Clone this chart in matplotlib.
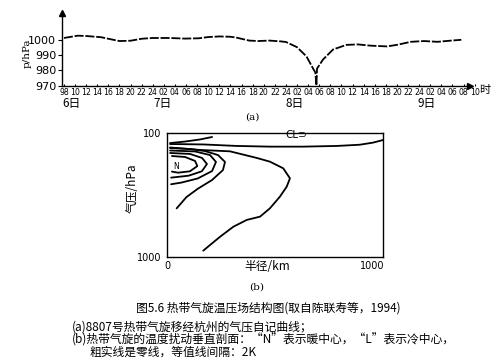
import numpy as np
import matplotlib
matplotlib.use('Agg')
import matplotlib.pyplot as plt
from matplotlib.transforms import blended_transform_factory

W, H = 501, 363
CJK = ['Noto Sans CJK SC', 'DejaVu Sans']
NARROW = ['Liberation Sans Narrow', 'DejaVu Sans']
plt.rcParams['font.family'] = ['DejaVu Sans', 'Noto Sans CJK SC']

# ---------------- Panel (a): pressure trace ----------------
hours = [8, 10.5, 12, 14.7, 16, 18, 20, 22, 24, 27, 29.8, 32.3, 34, 36, 38, 39,
         41.4, 43, 45, 47, 48, 50, 51.7, 52.9, 53.3, 53.5, 53.6, 54.7, 56.5,
         58.9, 61, 63.2, 66.2, 68, 70.5, 72.9, 75.3, 77.8, 79.6]
pressure = [1001, 1002.5, 1002.3, 1001.5, 1000.5, 999, 999.2, 1000.5, 1001,
            1001, 1000.6, 1000.8, 1001.6, 1002, 1001.8, 1001.3, 999.3, 999,
            999.3, 998.8, 998.4, 995, 989, 981, 978.5, 970, 981, 987, 993.5,
            996.5, 996.8, 996, 995.5, 996.5, 998.5, 999, 998.5, 999.3, 999.8]
tick_hours = list(range(8, 83, 2))
tick_labels = ["98", "10", "12", "14", "16", "18", "20", "22", "24",
               "02", "04", "06", "08", "10", "12", "14", "16", "18", "20", "22", "24",
               "02", "04", "06", "08", "10", "12", "14", "16", "18", "20", "22", "24",
               "02", "04", "06", "08", "10"]
day_labels = ["6日", "7日", "8日", "9日"]
day_label_hours = [9.4, 25.8, 49.6, 73.4]
yticks_a = [970, 980, 990, 1000]

# ---------------- Panel (b): temperature anomaly section ----------------
line_A_r = [15, 176, 341, 502, 663, 829, 941, 1005, 1054]
line_A_p = [180, 183, 194, 199, 199, 194, 185, 170, 151]
line_B_r = [15, 88, 161, 220]
line_B_p = [173, 162, 147, 129]
line_C_r = [15, 161, 307, 438, 502, 567, 600, 584, 551, 502, 454, 389, 324, 259, 210, 177]
line_C_p = [205, 223, 233, 281, 308, 356, 429, 490, 562, 647, 707, 731, 780, 853, 913, 954]
line_D_r = [15, 112, 185, 249, 283, 273, 220, 150, 95, 47]
line_D_p = [209, 216, 231, 260, 310, 369, 441, 505, 565, 647]
arc3_r = [15, 137, 210, 239, 220, 150, 70, 20]
arc3_p = [227, 234, 260, 310, 376, 430, 460, 472]
arc2_r = [15, 112, 171, 195, 170, 105, 20]
arc2_p = [245, 252, 281, 325, 378, 410, 424]
arc1_r = [24, 88, 137, 148, 112, 54, 24]
arc1_p = [267, 274, 303, 340, 378, 388, 380]
contours = [(line_A_r, line_A_p), (line_B_r, line_B_p), (line_C_r, line_C_p),
            (line_D_r, line_D_p), (arc3_r, arc3_p), (arc2_r, arc2_p),
            (arc1_r, arc1_p)]

fig = plt.figure(figsize=(W / 100, H / 100), dpi=100)
fig.patch.set_facecolor('white')


def fx(px):
    return px / W


def fy(py):
    return 1 - py / H


# ---- axes (a)
xl, xr = 7.6, 83.0
yb, yt = 970.0, 1017.1
axa = fig.add_axes([fx(61.7), fy(85.5), fx(61.7 + (xr - xl) * 5.55) - fx(61.7),
                    fy(13.3) - fy(85.5)])
axa.plot(hours, pressure, color='black', lw=1.3, dashes=(5, 1),
         solid_joinstyle='round')
axa.set_xlim(xl, xr)
axa.set_ylim(yb, yt)
for s in ['top', 'right']:
    axa.spines[s].set_visible(False)
axa.spines['bottom'].set_bounds(xl, 81.2)
axa.spines['left'].set_linewidth(1.0)
axa.spines['bottom'].set_linewidth(1.0)
axa.plot([81.2], [yb], marker='>', ms=4, color='black', clip_on=False)
axa.plot([xl], [yt], marker='^', ms=4, color='black', clip_on=False)
axa.set_yticks(yticks_a)
axa.set_yticklabels([str(v) for v in yticks_a], fontsize=8)
axa.tick_params(axis='y', length=3, width=0.8, pad=1)
axa.set_xticks(tick_hours)
axa.set_xticklabels(tick_labels, fontsize=5.6, family=NARROW)
axa.tick_params(axis='x', direction='in', length=1.5, width=0.8, pad=1.5)
axa.set_facecolor('none')
trans = blended_transform_factory(axa.transData, axa.transAxes)
for lab, h in zip(day_labels, day_label_hours):
    axa.text(h, -0.256, lab, transform=trans, ha='center', va='center',
             fontsize=8.5, family=CJK)
axa.text(82.9, -0.065, "时", transform=trans, ha='left', va='center',
         fontsize=8, family=CJK, clip_on=False)
fig.text(fx(27), fy(53), "p/hPa", rotation=90, ha='center', va='center',
         fontsize=7.5, family=['DejaVu Serif'])
fig.text(fx(252), fy(117), "(a)", ha='center', va='center', fontsize=7.5,
         family=['DejaVu Serif'])

# ---- axes (b)
axb = fig.add_axes([fx(167), fy(257), fx(383) - fx(167), fy(133) - fy(257)])
for r, p in contours:
    axb.plot(r, p, color='black', lw=1.3, solid_joinstyle='round',
             solid_capstyle='round')
axb.set_xlim(0, 1054)
axb.set_ylim(1000, 100)
axb.set_xticks([0, 1000])
axb.set_xticklabels(["0", "1000"], fontsize=7, family=NARROW)
axb.set_yticks([100, 1000])
axb.set_yticklabels(["100", "1000"], fontsize=7, family=NARROW)
axb.tick_params(axis='both', length=0)
axb.tick_params(axis='y', pad=4)
axb.tick_params(axis='x', pad=3)
for s in axb.spines.values():
    s.set_linewidth(1.0)
axb.text(44, 340, "N", ha='center', va='center', fontsize=5.5)
axb.text(629, 118, "CL⊃", ha='center', va='center', fontsize=7.5)
fig.text(fx(132.5), fy(188), "气压/hPa", rotation=90, ha='center', va='center',
         fontsize=8.5, family=CJK)
fig.text(fx(267), fy(267), "半径/km", ha='center', va='center', fontsize=8.5,
         family=CJK)
fig.text(fx(257), fy(287), "(b)", ha='center', va='center', fontsize=7.5,
         family=['DejaVu Serif'])

# ---- captions
fig.text(fx(268.5), fy(308.5), "图5.6 热带气旋温压场结构图(取自陈联寿等，1994)",
         ha='center', va='center', fontsize=8.5, family=CJK)
fig.text(fx(71.7), fy(327), "(a)8807号热带气旋移经杭州的气压自记曲线；",
         ha='left', va='center', fontsize=8.5, family=CJK)
fig.text(fx(71.7), fy(339.5),
         "(b)热带气旋的温度扰动垂直剖面：“N”表示暖中心，“L”表示冷中心，",
         ha='left', va='center', fontsize=8.5, family=CJK)
fig.text(fx(89.3), fy(352.5), "粗实线是零线，等值线间隔：2K",
         ha='left', va='center', fontsize=8.5, family=CJK)

fig.savefig('out.png', dpi=100)
